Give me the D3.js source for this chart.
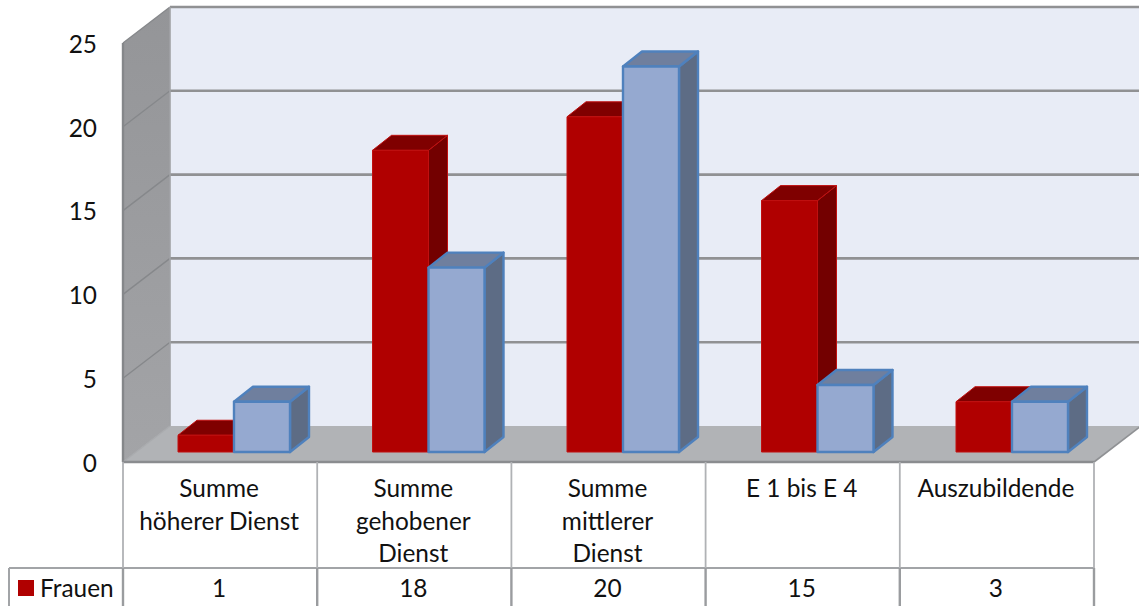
<!DOCTYPE html>
<html lang="de">
<head>
<meta charset="utf-8">
<title>Beschäftigte nach Laufbahn</title>
<script src="https://cdn.jsdelivr.net/npm/d3@7"></script>
<style>
  html, body { margin: 0; padding: 0; background: #fff; overflow: hidden; }
  svg { display: block; font-family: Lato, "Open Sans", sans-serif; }
  .lbl { font-size: 24.4px; fill: #111; }
</style>
</head>
<body>
<svg id="chart" width="1139" height="606"></svg>
<script>
const categories = [["Summe", "höherer Dienst"], ["Summe", "gehobener", "Dienst"], ["Summe", "mittlerer", "Dienst"], ["E 1 bis E 4"], ["Auszubildende"]];
const frauen = [1, 18, 20, 15, 3];
const maenner = [3, 11, 23, 4, 3];
const yTicks = [0, 5, 10, 15, 20, 25];
const seriesName = "Frauen";

const svg = d3.select("#chart");

// Frame of the 3D box: front plane, and the shift to the back wall
const frameLeft = 123, frameRight = 1094, frameBase = 462, frameTop = 43;
const depthX = 47, depthY = -36;
const x = d3.scaleBand().domain(d3.range(categories.length)).range([frameLeft, frameRight]);
const y = d3.scaleLinear().domain([0, 25]).range([frameBase, frameTop]);
const backY = v => y(v) + depthY;
// The bars sit on the mid-depth plane, so their spacing is a touch wider than the table's
const xBars = d3.scaleBand().domain(d3.range(categories.length)).range([178, 178 + 5 * 194.5]);

const defs = svg.append("defs");
const wallGrad = defs.append("linearGradient").attr("id", "wall").attr("x1", 0).attr("x2", 0).attr("y1", 0).attr("y2", 1);
wallGrad.append("stop").attr("offset", 0).attr("stop-color", "#949598");
wallGrad.append("stop").attr("offset", 1).attr("stop-color", "#a3a4a7");

const poly = (pts, fill, stroke, sw) => svg.append("polygon")
  .attr("points", pts.map(p => p.join(",")).join(" "))
  .attr("fill", fill).attr("stroke", stroke || "none").attr("stroke-width", sw || 0)
  .attr("stroke-linejoin", "round");
const line = (x1, y1, x2, y2, c, w) => svg.append("line")
  .attr("x1", x1).attr("y1", y1).attr("x2", x2).attr("y2", y2)
  .attr("stroke", c).attr("stroke-width", w);

// Back wall
poly([[frameLeft + depthX, backY(25)], [1141, backY(25)], [1141, backY(0)], [frameLeft + depthX, backY(0)]], "#e8ecf6");
// Side wall
poly([[frameLeft, y(25)], [frameLeft + depthX, backY(25)], [frameLeft + depthX, backY(0)], [frameLeft, y(0)]], "url(#wall)");
// Floor
poly([[frameLeft, y(0)], [frameLeft + depthX, backY(0)], [1141, backY(0)], [frameRight, y(0)]], "#b1b3b6");

// Grid lines along both walls
yTicks.forEach(v => {
  if (v > 0) line(frameLeft + depthX, backY(v), 1141, backY(v), "#909193", 2.6);
  if (v > 0) line(frameLeft, y(v), frameLeft + depthX, backY(v), "#86888b", 1.4);
});
line(frameLeft + depthX, backY(25), frameLeft + depthX, backY(0), "#a0a2a5", 1.6);
line(frameLeft, y(25), frameLeft, y(0), "#85878a", 2.4);
line(frameLeft, y(0), frameLeft + depthX, backY(0), "#a9abae", 1.4);
line(frameLeft, y(0), frameRight, y(0), "#8a8c8f", 2.6);
line(frameRight, y(0), frameRight + depthX, backY(0), "#8f9194", 1.6);

// Bars stand slightly behind the front plane
const barW = 56, barLift = 10, barDX = 19, barDY = -15;
const bar = (x0, v, c) => {
  const b = y(0) - barLift, t = y(v) - barLift, x1 = x0 + barW;
  poly([[x1, t], [x1 + barDX, t + barDY], [x1 + barDX, b + barDY], [x1, b]], c.side, c.edge, c.sw);
  poly([[x0, t], [x0 + barDX, t + barDY], [x1 + barDX, t + barDY], [x1, t]], c.top, c.edge, c.sw);
  poly([[x0, t], [x1, t], [x1, b], [x0, b]], c.front, c.edge, c.sw);
};
const redStyle = { front: "#b00000", side: "#730000", top: "#7f0000", edge: "#c01010", sw: 1 };
const blueStyle = { front: "#95a9d0", side: "#5d6c85", top: "#6f7f9e", edge: "#4f81bd", sw: 2.4 };
categories.forEach((_, i) => {
  bar(xBars(i), frauen[i], redStyle);
  bar(xBars(i) + barW, maenner[i], blueStyle);
});

// Value axis labels
const axis = svg.append("g").attr("transform", `translate(${frameLeft - 26},0)`)
  .call(d3.axisLeft(y).tickValues(yTicks).tickSize(0).tickPadding(0));
axis.select(".domain").remove();
axis.attr("font-family", null).attr("font-size", null);
axis.selectAll("text").attr("class", "lbl").attr("dy", "0.38em");

// Data table below the floor
const tableMid = 568, tableBottom = 612, tableLeft = 9;
line(tableLeft, tableMid, frameRight, tableMid, "#a2a4a7", 2);
line(tableLeft, tableMid, tableLeft, tableBottom, "#a2a4a7", 2);
d3.range(categories.length + 1).forEach(i => {
  const px = i < categories.length ? x(i) : frameRight;
  line(px, y(0), px, tableMid, "#b0b2b5", 1.8);
  line(px, tableMid, px, tableBottom, "#9a9c9f", 2.4);
});
categories.forEach((lines, i) => {
  const cx = x(i) + x.bandwidth() / 2 - 1;
  lines.forEach((t, k) => svg.append("text").attr("class", "lbl")
    .attr("x", cx).attr("y", 497 + k * 32.5).attr("text-anchor", "middle").text(t));
  svg.append("text").attr("class", "lbl")
    .attr("x", cx).attr("y", 597).attr("text-anchor", "middle").text(frauen[i]);
});
svg.append("rect").attr("x", 18).attr("y", 580).attr("width", 16).attr("height", 16).attr("fill", "#b00000");
svg.append("text").attr("class", "lbl").attr("x", 40).attr("y", 597).text(seriesName);
</script>
</body>
</html>
